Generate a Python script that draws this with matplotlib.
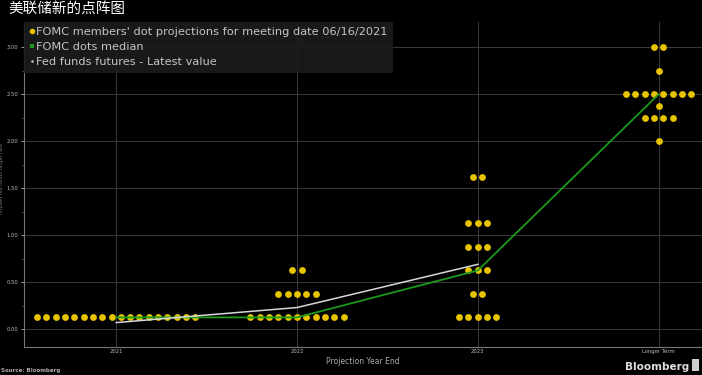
import numpy as np
import matplotlib
matplotlib.use("Agg")
import matplotlib.pyplot as plt
from matplotlib.lines import Line2D
from matplotlib.patches import Rectangle

plt.rcParams['font.family'] = ['DejaVu Sans', 'Noto Sans CJK SC']

# data
categories = ['2021', '2022', '2023', 'Longer Term']

levels_2021 = [0.125]
counts_2021 = [18]
levels_2022 = [0.125, 0.375, 0.625]
counts_2022 = [11, 5, 2]
levels_2023 = [0.125, 0.375, 0.625, 0.875, 1.125, 1.625]
counts_2023 = [5, 2, 3, 3, 3, 2]
levels_lt = [2.0, 2.25, 2.375, 2.5, 2.75, 3.0]
counts_lt = [1, 4, 1, 8, 1, 2]

median = [0.125, 0.125, 0.625, 2.5]
futures = [0.07, 0.23, 0.69]

all_levels = [levels_2021, levels_2022, levels_2023, levels_lt]
all_counts = [counts_2021, counts_2022, counts_2023, counts_lt]

yellow = '#e8c400'
green = '#1a9a1a'
grid_c = '#3a3a3a'

fig = plt.figure(figsize=(7.02, 3.75), dpi=100, facecolor='black')
ax = fig.add_axes([0.0342, 0.0747, 0.9658, 0.8666], facecolor='black')

# dots, spread horizontally around each category
spacing = 0.0515
for i in range(len(categories)):
    for lev, n in zip(all_levels[i], all_counts[i]):
        xs = i + (np.arange(n) - (n - 1) / 2) * spacing
        ax.plot(xs, [lev] * n, 'o', color=yellow, markersize=4.9, markeredgewidth=0, zorder=3)

ax.plot(range(len(median)), median, color=green, lw=1.3, zorder=4)
ax.plot(range(len(futures)), futures, color='#d8d8d8', lw=1.1, zorder=4)

ax.set_xlim(-0.51, 3.24)
ax.set_ylim(-0.19, 3.27)
ax.set_xticks(range(len(categories)))
ax.set_xticklabels(categories)
ax.set_yticks(np.arange(0, 3.01, 0.5))
ax.set_yticklabels(['%.2f' % v for v in np.arange(0, 3.01, 0.5)])
ax.set_yticks(np.arange(0.25, 3.0, 0.5), minor=True)

ax.grid(True, which='major', color=grid_c, lw=0.7)
ax.tick_params(axis='both', which='major', colors='#bbbbbb', labelsize=3.8, length=2.5, width=0.6, pad=1.5)
ax.tick_params(axis='y', which='minor', colors='#666666', length=1.5, width=0.5)
ax.tick_params(axis='x', length=0)
for s in ['top', 'right']:
    ax.spines[s].set_visible(False)
for s in ['left', 'bottom']:
    ax.spines[s].set_color('#777777')
    ax.spines[s].set_linewidth(0.8)

ax.set_xlabel('Projection Year End', color='#aaaaaa', fontsize=5.5, labelpad=2)
ax.set_ylabel('Implied fed funds target rate', color='#777777', fontsize=3.5)
ax.yaxis.set_label_coords(-0.03, 0.52)

handles = [
    Line2D([], [], ls='none', marker='o', color=yellow, markersize=4, markeredgewidth=0),
    Line2D([], [], ls='none', marker='s', color=green, markersize=3, markeredgewidth=0),
    Line2D([], [], ls='none', marker='o', color='#cccccc', markersize=1.8, markeredgewidth=0),
]
labels = ["FOMC members' dot projections for meeting date 06/16/2021",
          'FOMC dots median',
          'Fed funds futures - Latest value']
leg = ax.legend(handles, labels, loc='upper left', bbox_to_anchor=(0.0, 1.0), borderaxespad=0,
                fontsize=8.2, handlelength=0.5, handletextpad=0.1, labelspacing=0.45,
                borderpad=0.45, frameon=True, fancybox=False, framealpha=0.92)
leg.get_frame().set_facecolor('#1c1c1c')
leg.get_frame().set_edgecolor('none')
for t in leg.get_texts():
    t.set_color('#c4c4c4')

fig.text(0.012, 0.995, '美联储新的点阵图', color='white', fontsize=10.5,
         family=['Noto Sans CJK SC', 'DejaVu Sans'], ha='left', va='top')
fig.text(0.002, 0.005, 'Source: Bloomberg', color='#aaaaaa', fontsize=4, ha='left', va='bottom',
         fontweight='bold')
fig.text(0.982, 0.008, 'Bloomberg', color='#dddddd', fontsize=7.5, ha='right', va='bottom',
         fontweight='bold')
fig.patches.append(Rectangle((0.986, 0.012), 0.01, 0.03, transform=fig.transFigure,
                             facecolor='#cccccc', edgecolor='none'))

fig.savefig('out.png', dpi=100, facecolor='black')
